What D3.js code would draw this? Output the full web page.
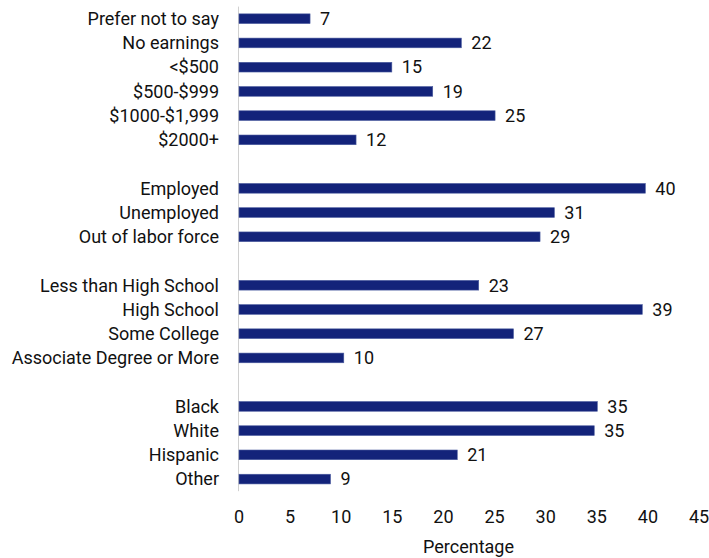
<!DOCTYPE html>
<html>
<head>
<meta charset="utf-8">
<script src="https://cdn.jsdelivr.net/npm/d3@7"></script>
<style>
  html, body { margin: 0; padding: 0; background: #fff; }
  svg { display: block; }
  text { font-family: Roboto, "DejaVu Sans", sans-serif; fill: #111; }
</style>
</head>
<body>
<svg id="chart" width="709" height="558"></svg>
<script>
// groups separated by an empty row
const earningsLabels = ["Prefer not to say", "No earnings", "<$500", "$500-$999", "$1000-$1,999", "$2000+"];
const earningsValues = [7, 21.8, 15, 19, 25.1, 11.5];
const earningsText = ["7", "22", "15", "19", "25", "12"];

const employmentLabels = ["Employed", "Unemployed", "Out of labor force"];
const employmentValues = [39.8, 30.9, 29.5];
const employmentText = ["40", "31", "29"];

const educationLabels = ["Less than High School", "High School", "Some College", "Associate Degree or More"];
const educationValues = [23.5, 39.5, 26.9, 10.3];
const educationText = ["23", "39", "27", "10"];

const raceLabels = ["Black", "White", "Hispanic", "Other"];
const raceValues = [35.1, 34.8, 21.4, 9];
const raceText = ["35", "35", "21", "9"];

const xTicks = [0, 5, 10, 15, 20, 25, 30, 35, 40, 45];

const FONT_SIZE = 18;

function buildRows() {
  const groups = [
    [earningsLabels, earningsValues, earningsText],
    [employmentLabels, employmentValues, employmentText],
    [educationLabels, educationValues, educationText],
    [raceLabels, raceValues, raceText],
  ];
  const rows = [];
  groups.forEach(([labels, values, text], g) => {
    if (g > 0) rows.push({ id: `gap${g}`, gap: true });
    labels.forEach((label, i) => rows.push({ id: label, label, value: values[i], text: text[i] }));
  });
  return rows;
}

const rows = buildRows();
const svg = d3.select("#chart");

const x = d3.scaleLinear().domain([0, 45]).range([238.5, 698.5]);
const y = d3.scaleBand().domain(rows.map((d) => d.id)).range([6.6, 491.2]).padding(0);
const barH = y.bandwidth() * 0.4;

const bars = rows.filter((d) => !d.gap);

svg.append("line")
  .attr("x1", x(0)).attr("x2", x(0))
  .attr("y1", y.range()[0]).attr("y2", y.range()[1])
  .attr("stroke", "#d0d0d0")
  .attr("stroke-width", 1);

svg.selectAll("rect.bar")
  .data(bars)
  .join("rect")
  .attr("class", "bar")
  .attr("x", x(0) + 0.5)
  .attr("y", (d) => y(d.id) + (y.bandwidth() - barH) / 2)
  .attr("width", (d) => x(d.value) - x(0) - 0.5)
  .attr("height", barH)
  .attr("fill", "#13237a")
  .attr("stroke", "#4a5a9e")
  .attr("stroke-width", 0.6);

svg.selectAll("text.cat")
  .data(bars)
  .join("text")
  .attr("class", "cat")
  .attr("x", 219)
  .attr("y", (d) => y(d.id) + y.bandwidth() / 2)
  .attr("dy", "0.35em")
  .attr("text-anchor", "end")
  .attr("font-size", FONT_SIZE)
  .text((d) => d.label);

svg.selectAll("text.val")
  .data(bars)
  .join("text")
  .attr("class", "val")
  .attr("x", (d) => x(d.value) + 10)
  .attr("y", (d) => y(d.id) + y.bandwidth() / 2)
  .attr("dy", "0.35em")
  .attr("font-size", FONT_SIZE)
  .text((d) => d.text);

const axis = svg.append("g")
  .attr("transform", "translate(0,517)")
  .call(d3.axisBottom(x).tickValues(xTicks).tickSize(0).tickPadding(0));
axis.select(".domain").remove();
axis.selectAll("text")
  .attr("dy", "0.35em")
  .attr("font-size", FONT_SIZE)
  .attr("fill", "#111")
  .style("font-family", "Roboto, 'DejaVu Sans', sans-serif");

svg.append("text")
  .attr("x", (x(0) + x(45)) / 2)
  .attr("y", 547)
  .attr("dy", "0.35em")
  .attr("text-anchor", "middle")
  .attr("font-size", FONT_SIZE)
  .text("Percentage");
</script>
</body>
</html>
